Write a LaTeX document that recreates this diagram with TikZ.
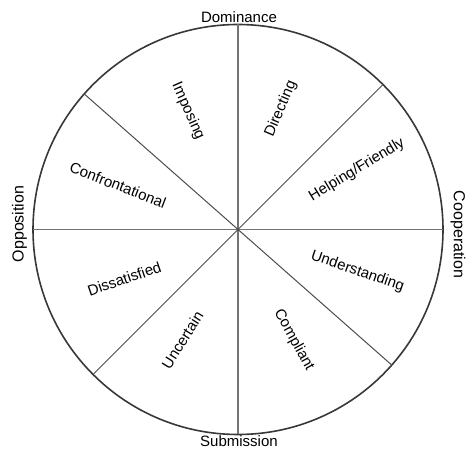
\documentclass[tikz,border=0pt]{standalone}
\usepackage{fontspec}
\setmainfont{Liberation Sans}
\usetikzlibrary{calc}

\begin{document}
\begin{tikzpicture}[x=1pt,y=1pt,font=\fontsize{15}{18}\selectfont,
  wedgelabel/.style={inner sep=0pt},
  axislabel/.style={inner sep=0pt}]
\useasboundingbox (0,0) rectangle (467,449);
\coordinate (c) at (238,219.5);
% outer rim
\draw[line width=1.6pt,black!78] (c) circle (205);
% vertical and horizontal diameters
\draw[line width=1.3pt,black!55] ($(c)+(90:205)$) -- ($(c)+(270:205)$);
\draw[line width=1.3pt,black!55] ($(c)+(180:205)$) -- ($(c)+(0:205)$);
% diagonal spokes
\foreach \a in {45,138.6,225,318.6}
  \draw[line width=1pt,black!70] (c) -- ++(\a:205);
% axis names round the rim
\node[axislabel] (dominance) at (239,431.5) {Dominance};
\node[axislabel] (submission) at (239,7.5) {Submission};
\node[axislabel,rotate=90,font=\fontsize{16}{19}\selectfont] (opposition) at (19.5,225) {Opposition};
\node[axislabel,rotate=-90,font=\fontsize{16}{19}\selectfont] (cooperation) at (458,214.5) {Cooperation};
% sector names
\node[wedgelabel,rotate=67] (directing) at ($(c)+(70.4:128)$) {Directing};
\node[wedgelabel,rotate=-66] (imposing) at ($(c)+(112.9:128.6)$) {Imposing};
\node[wedgelabel,rotate=-21] (confront) at ($(c)+(159.7:128)$) {Confrontational};
\node[wedgelabel,rotate=19] (dissat) at ($(c)+(203.5:124)$) {Dissatisfied};
\node[wedgelabel,rotate=58] (uncertain) at ($(c)+(243.3:123.7)$) {Uncertain};
\node[wedgelabel,rotate=-61] (compliant) at ($(c)+(-63.2:124)$) {Compliant};
\node[wedgelabel,rotate=-19] (understand) at ($(c)+(-19.4:126.7)$) {Understanding};
\node[wedgelabel,rotate=31] (helping) at ($(c)+(26.6:133)$) {Helping/Friendly};
\end{tikzpicture}
\end{document}
